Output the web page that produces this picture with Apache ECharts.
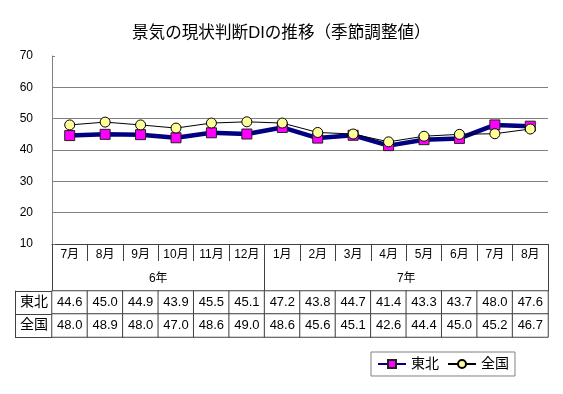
<!DOCTYPE html>
<html>
<head>
<meta charset="utf-8">
<script src="https://cdn.jsdelivr.net/npm/echarts@6/dist/echarts.min.js"></script>
<style>html,body{margin:0;padding:0;background:#fff}#c{width:563px;height:394px}</style>
</head>
<body>
<div id="c"></div>
<script>
const months = ['7月','8月','9月','10月','11月','12月','1月','2月','3月','4月','5月','6月','7月','8月'];
const yearLabels = ['6年','7年'];
const yearSpans = [6, 8];
const seriesNames = ['東北','全国'];
const tohoku = [44.6,45.0,44.9,43.9,45.5,45.1,47.2,43.8,44.7,41.4,43.3,43.7,48.0,47.6];
const zenkoku = [48.0,48.9,48.0,47.0,48.6,49.0,48.6,45.6,45.1,42.6,44.4,45.0,45.2,46.7];
const yTicks = {min:10, max:70, interval:10};

const FONT = "'Liberation Sans','Noto Sans CJK JP',sans-serif";
const BORDER = '#404040';

// year boundaries and centers from spans
const yearBounds = [0];
const yearCenters = [];
yearSpans.forEach(s => { const st = yearBounds[yearBounds.length-1]; yearCenters.push(st + s/2); yearBounds.push(st + s); });

const tableRows = [tohoku, zenkoku];
const heatData = [];
tableRows.forEach((row, r) => row.forEach((v, i) => heatData.push([i, r, v])));

const chart = echarts.init(document.getElementById('c'), null, {renderer:'canvas'});
chart.setOption({
  animation: false,
  textStyle: {fontFamily: FONT},
  title: {
    text: '景気の現状判断DIの推移（季節調整値）',
    left: 127, top: 20,
    textStyle: {fontSize: 16.6, fontWeight: 'normal', color: '#000', fontFamily: FONT}
  },
  legend: {
    data: seriesNames,
    left: 371, top: 352,
    borderColor: '#808080', borderWidth: 1,
    padding: [5, 6, 5, 6],
    itemWidth: 28, itemHeight: 10, itemGap: 8,
    textStyle: {fontSize: 14, color: '#000', fontFamily: FONT}
  },
  visualMap: {show: false, seriesIndex: 2, min: 0, max: 100, inRange: {color: ['#ffffff', '#ffffff']}},
  grid: [
    {left: 52, right: 15, top: 56, bottom: 150},
    {left: 52, right: 15, top: 291, height: 46}
  ],
  xAxis: [
    {
      type: 'category', gridIndex: 0, data: months, position: 'bottom',
      axisLine: {lineStyle: {color: BORDER, width: 1}},
      axisTick: {show: true, interval: 0, length: 17, lineStyle: {color: BORDER}},
      axisLabel: {interval: 0, margin: 5, fontSize: 12, color: '#000', fontFamily: FONT}
    },
    {
      type: 'value', gridIndex: 0, min: 0, max: months.length, position: 'bottom',
      axisLine: {show: false},
      splitLine: {show: false},
      axisTick: {show: true, customValues: yearBounds, length: 47, lineStyle: {color: BORDER}},
      axisLabel: {
        customValues: yearCenters, margin: 29, fontSize: 12, color: '#000', fontFamily: FONT,
        formatter: v => { const k = yearCenters.indexOf(v); return k >= 0 ? yearLabels[k] : ''; }
      }
    },
    {
      type: 'category', gridIndex: 1, data: months,
      axisLine: {show: false}, axisTick: {show: false}, axisLabel: {show: false}
    }
  ],
  yAxis: [
    {
      type: 'value', gridIndex: 0, min: yTicks.min, max: yTicks.max, interval: yTicks.interval,
      axisLine: {show: true, lineStyle: {color: '#808080'}},
      axisTick: {show: true, inside: true, length: 3, lineStyle: {color: '#808080'}},
      axisLabel: {margin: 19, fontSize: 12, color: '#000', fontFamily: FONT},
      splitLine: {show: true, showMaxLine: false, showMinLine: false, lineStyle: {color: '#808080', width: 1}}
    },
    {
      type: 'category', gridIndex: 1, data: seriesNames, inverse: true, position: 'left',
      axisLine: {show: true, lineStyle: {color: BORDER}},
      axisTick: {show: true, interval: 0, length: 37, lineStyle: {color: BORDER}},
      axisLabel: {margin: 18, align: 'center', fontSize: 14, color: '#000', fontFamily: FONT}
    },
    {
      type: 'category', gridIndex: 1, data: seriesNames, inverse: true, position: 'left', offset: 37,
      axisLine: {show: true, lineStyle: {color: BORDER}},
      axisTick: {show: false}, axisLabel: {show: false}
    }
  ],
  series: [
    {
      name: seriesNames[0], type: 'line', xAxisIndex: 0, yAxisIndex: 0, data: tohoku,
      symbol: 'rect', symbolSize: 10,
      lineStyle: {color: '#000080', width: 4.5},
      itemStyle: {color: '#ff00ff', borderColor: '#202020', borderWidth: 1}
    },
    {
      name: seriesNames[1], type: 'line', xAxisIndex: 0, yAxisIndex: 0, data: zenkoku,
      symbol: 'circle', symbolSize: 10,
      lineStyle: {color: '#000000', width: 1},
      itemStyle: {color: '#ffff99', borderColor: '#000000', borderWidth: 1}
    },
    {
      type: 'heatmap', xAxisIndex: 2, yAxisIndex: 1, data: heatData,
      itemStyle: {color: '#ffffff', borderColor: BORDER, borderWidth: 1},
      label: {show: true, fontSize: 13, color: '#000', fontFamily: FONT, formatter: p => p.value[2].toFixed(1)},
      emphasis: {disabled: true}
    }
  ]
});
</script>
</body>
</html>
